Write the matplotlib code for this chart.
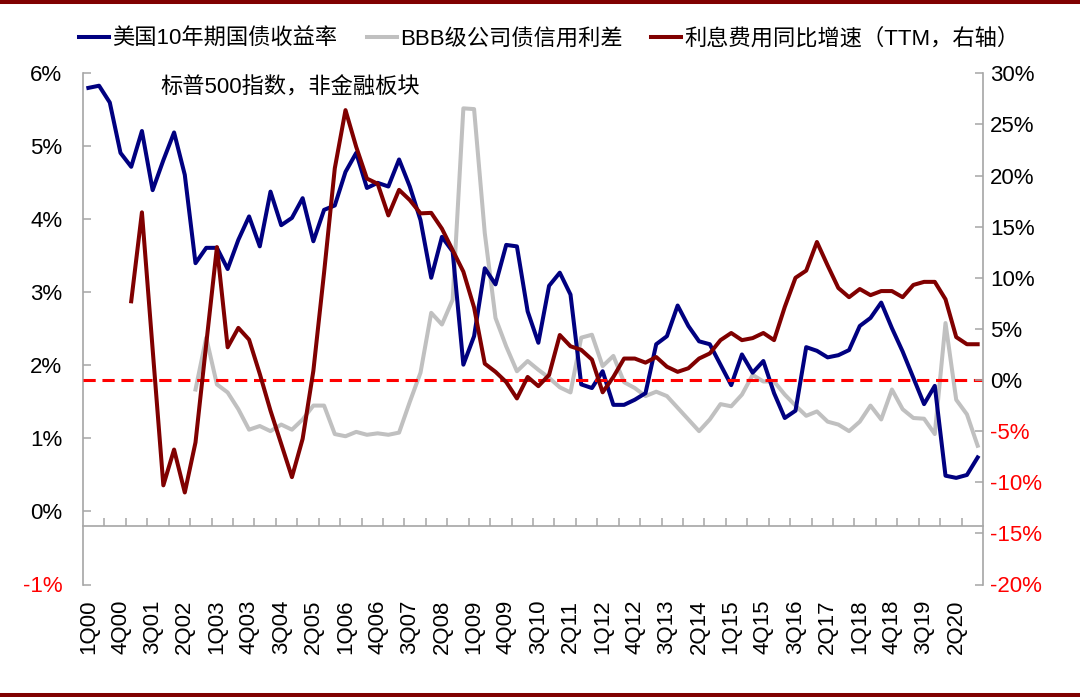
import numpy as np
import matplotlib.pyplot as plt
from matplotlib.lines import Line2D

plt.rcParams['font.family'] = ['Liberation Sans', 'Noto Sans CJK SC']

# quarterly categories 1Q00 .. 4Q20
quarters = [f"{q}Q{y:02d}" for y in range(21) for q in range(1, 5)]

# US 10y treasury yield, % (left axis)
ust10y = [5.80, 5.83, 5.60, 4.91, 4.72, 5.21, 4.40, 4.81, 5.19, 4.61,
          3.40, 3.61, 3.61, 3.32, 3.72, 4.04, 3.63, 4.38, 3.92, 4.02,
          4.29, 3.70, 4.13, 4.19, 4.65, 4.91, 4.43, 4.50, 4.45, 4.82,
          4.45, 3.99, 3.20, 3.76, 3.56, 2.01, 2.40, 3.33, 3.11, 3.65,
          3.63, 2.74, 2.31, 3.09, 3.27, 2.97, 1.74, 1.69, 1.92, 1.46,
          1.46, 1.53, 1.62, 2.29, 2.40, 2.82, 2.54, 2.33, 2.29, 2.01,
          1.73, 2.15, 1.90, 2.06, 1.62, 1.28, 1.38, 2.25, 2.20, 2.11,
          2.14, 2.21, 2.54, 2.65, 2.86, 2.51, 2.19, 1.83, 1.47, 1.72,
          0.49, 0.46, 0.50, 0.74]

# BBB corporate credit spread, % (left axis)
bbb_spread = [np.nan] * 10 + [
          1.67, 2.38, 1.74, 1.63, 1.40, 1.12, 1.17, 1.10, 1.19, 1.12,
          1.26, 1.45, 1.45, 1.06, 1.03, 1.09, 1.05, 1.07, 1.05, 1.08,
          1.50, 1.90, 2.72, 2.56, 2.90, 5.52, 5.51, 3.81, 2.65, 2.26,
          1.92, 2.06, 1.94, 1.83, 1.70, 1.63, 2.38, 2.42, 1.99, 2.13,
          1.77, 1.69, 1.58, 1.64, 1.58, 1.42, 1.26, 1.10, 1.26, 1.47,
          1.44, 1.60, 1.87, 1.78, 1.78, 1.60, 1.45, 1.31, 1.37, 1.23,
          1.19, 1.10, 1.23, 1.45, 1.26, 1.67, 1.40, 1.28, 1.27, 1.06,
          2.58, 1.53, 1.33, 0.90]

# interest expense yoy growth (TTM), % (right axis)
interest_yoy = [np.nan] * 4 + [
          7.7, 16.4, 3.0, -10.3, -6.8, -11.0,
          -6.1, 3.5, 13.0, 3.2, 5.1, 3.95, 0.6, -3.0, -6.25, -9.5,
          -5.75, 0.9, 10.5, 20.7, 26.4, 22.8, 19.7, 19.2, 16.1, 18.6,
          17.6, 16.3, 16.35, 14.8, 12.7, 10.6, 7.1, 1.6, 0.8, -0.2,
          -1.8, 0.3, -0.6, 0.5, 4.4, 3.3, 2.95, 2.0, -1.2, 0.3,
          2.1, 2.1, 1.7, 2.25, 1.3, 0.8, 1.15, 2.1, 2.6, 3.9,
          4.6, 3.9, 4.1, 4.6, 3.9, 7.15, 10.0, 10.7, 13.5, 11.2,
          9.0, 8.1, 8.9, 8.3, 8.7, 8.7, 8.1, 9.3, 9.6, 9.6,
          7.9, 4.2, 3.5, 3.5]

left_ticks = list(range(-1, 7))
right_ticks = list(range(-20, 31, 5))

x = np.arange(len(quarters))
gray = '#a6a6a6'

fig = plt.figure(figsize=(10.8, 6.97), dpi=100)
ax = fig.add_axes([83 / 1080, 1 - 584.5 / 697, 900 / 1080, (584.5 - 73.3) / 697])
ax2 = ax.twinx()

l_bbb, = ax.plot(x, bbb_spread, color='#c0c0c0', lw=2.9)
l_ust, = ax.plot(x, ust10y, color='#000080', lw=2.9)
ax2.axhline(0, color='#ff0000', lw=2.2, dashes=(4, 2.2), zorder=1)
l_int, = ax2.plot(x, interest_yoy, color='#800000', lw=2.9, zorder=2)

ax.set_xlim(-0.5, len(quarters) - 0.5)
ax.set_ylim(-1, 6)
ax2.set_ylim(-20, 30)

ax.set_yticks(left_ticks)
ax.set_yticklabels([f"{v}%" for v in left_ticks])
ax2.set_yticks(right_ticks)
ax2.set_yticklabels([f"{v}%" for v in right_ticks])
for lab, v in zip(ax.get_yticklabels(), left_ticks):
    lab.set_color('#ff0000' if v < 0 else 'black')
for lab, v in zip(ax2.get_yticklabels(), right_ticks):
    lab.set_color('#ff0000' if v < 0 else 'black')

ax.set_xticks(x[::3])
ax.set_xticklabels(quarters[::3], rotation=90)
ax.tick_params(axis='x', length=0, pad=11, labelsize=16)
ax.tick_params(axis='y', direction='in', length=5.5, width=1.1, color=gray,
               labelsize=16, pad=15)
ax2.tick_params(axis='y', direction='in', length=5.5, width=1.1, color=gray,
                labelsize=16, pad=5)

for s in ['top', 'bottom', 'right']:
    ax.spines[s].set_visible(False)
for s in ['top', 'bottom', 'left']:
    ax2.spines[s].set_visible(False)
ax.spines['left'].set_color(gray)
ax.spines['left'].set_linewidth(1.2)
ax2.spines['right'].set_color(gray)
ax2.spines['right'].set_linewidth(1.2)

# category axis crossing at -0.2%
sec = ax.secondary_xaxis((-0.2 + 1) / 7)
sec.set_xticks(np.arange(1.5, len(quarters) - 1, 2))
sec.tick_params(direction='in', length=5.5, width=1.1, color=gray, labelbottom=False)
sec.spines['bottom'].set_color(gray)
sec.spines['bottom'].set_linewidth(1.2)

ax.text((160 - 83) / 900, 1 - (88 - 73.3) / 511.2, "标普500指数，非金融板块",
        transform=ax.transAxes, fontsize=16, va='center', ha='left')

fig.legend([l_ust, l_bbb, l_int],
           ["美国10年期国债收益率", "BBB级公司债信用利差", "利息费用同比增速（TTM，右轴）"],
           loc='center', bbox_to_anchor=(549.5 / 1080, 1 - 39 / 697), ncol=3,
           frameon=False, fontsize=16, handlelength=1.35, handletextpad=0.15,
           columnspacing=1.3)

fig.add_artist(Line2D([0, 1], [1 - 2 / 697] * 2, transform=fig.transFigure,
                      color='#800000', lw=2.9))
fig.add_artist(Line2D([0, 1], [2 / 697] * 2, transform=fig.transFigure,
                      color='#800000', lw=2.9))

fig.savefig('out.png', dpi=100)
